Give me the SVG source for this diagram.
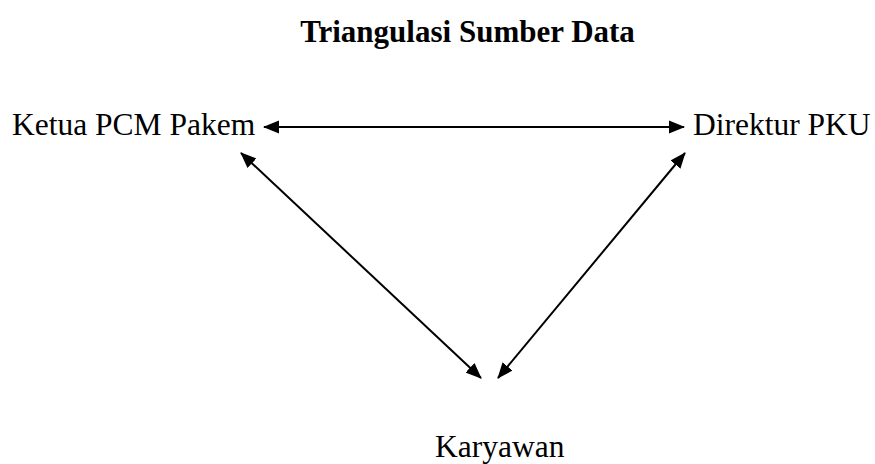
<svg xmlns="http://www.w3.org/2000/svg" width="875" height="464" viewBox="0 0 875 464">
  <style>
    .lbl { font-family: "Liberation Serif", "Times New Roman", serif; font-size: 31.5px; fill: #000; }
    .title { font-family: "Liberation Serif", "Times New Roman", serif; font-size: 31px; font-weight: bold; fill: #000; }
    .conn { stroke: #000; stroke-width: 2; fill: none; marker-start: url(#ah); marker-end: url(#ah); }
  </style>
  <defs>
    <marker id="ah" markerUnits="userSpaceOnUse" markerWidth="17" markerHeight="14" refX="15" refY="6.5" orient="auto-start-reverse" viewBox="0 0 17 13">
      <path d="M0,0 L16,6.5 L0,13 z" fill="#000"/>
    </marker>
  </defs>
  <rect width="875" height="464" fill="#fff"/>
  <text class="title" x="467.5" y="42" text-anchor="middle">Triangulasi Sumber Data</text>
  <g id="connectors">
    <line class="conn" x1="264" y1="127" x2="684" y2="127"/>
    <line class="conn" x1="241" y1="153" x2="481" y2="378"/>
    <line class="conn" x1="685" y1="153" x2="498" y2="378"/>
  </g>
  <g id="node-ketua">
    <text class="lbl" x="12" y="135">Ketua PCM Pakem</text>
  </g>
  <g id="node-direktur">
    <text class="lbl" x="693" y="135">Direktur PKU</text>
  </g>
  <g id="node-karyawan">
    <text class="lbl" x="435" y="457">Karyawan</text>
  </g>
</svg>
